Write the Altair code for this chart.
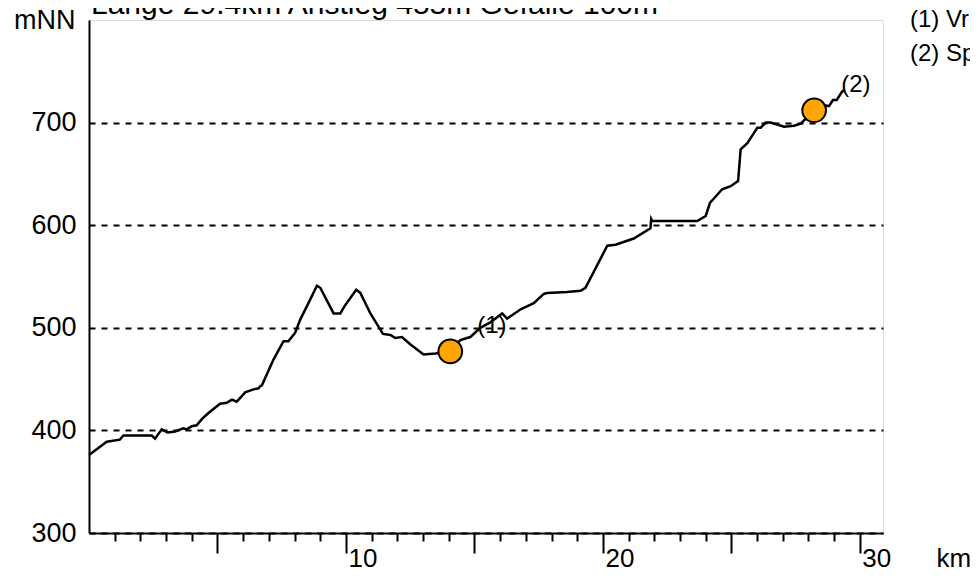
import altair as alt
import pandas as pd

# profile: distance (km) and elevation (mNN)
km = [0.0, 0.69, 1.2, 1.34, 2.44, 2.57, 2.83, 3.05, 3.35, 3.67, 3.8, 4.0, 4.19, 4.39, 4.65,
      5.1, 5.36, 5.56, 5.75, 6.08, 6.4, 6.6, 6.66, 6.73, 7.18, 7.57, 7.76, 8.02, 8.22, 8.54,
      8.87, 9.0, 9.52, 9.78, 9.97, 10.4, 10.56, 10.95, 11.44, 11.73, 11.92, 12.18, 12.5,
      13.02, 13.48, 14.06, 14.45, 14.84, 15.23, 15.6, 16.08, 16.27, 16.8, 17.31, 17.7, 17.83,
      18.6, 19.13, 19.32, 20.17, 20.49, 21.2, 21.85, 21.88, 21.92, 23.67, 24.0, 24.17, 24.32,
      24.64, 24.97, 25.26, 25.36, 25.62, 25.88, 26.01, 26.14, 26.33, 26.53, 27.05, 27.44,
      27.7, 28.22, 28.6, 28.8, 28.95, 29.1, 29.3, 29.4]
elev = [376, 389, 391, 395, 395, 392, 401, 398, 399, 402, 401, 404, 405, 411, 417,
        426, 427, 430, 428, 437, 440, 441, 443, 444, 469, 487, 487, 495, 508, 524,
        541, 539, 514, 514, 522, 537, 534, 514, 494, 493, 490, 491, 484,
        474, 475, 477, 488, 491, 500, 505, 514, 509, 518, 524, 533, 534,
        535, 536, 539, 580, 581, 587, 597, 606, 604, 604, 609, 622, 626,
        635, 638, 643, 674, 680, 690, 695, 695, 700, 700, 696, 697,
        699, 712, 717, 716, 722, 722, 730, 732]

# waypoints
wp_km = [14.06, 28.22]
wp_elev = [477, 712]
wp_label = ["(1)", "(2)"]

# legend lines (clipped at the right edge in the original)
legend_text = ["(1) Vro", "(2) Sp"]

title_text = "Länge 29.4km Anstieg 455m Gefälle 100m"

y_values = [300, 400, 500, 600, 700]
x_major = [5, 10, 15, 20, 25, 30]
x_minor = [v for v in range(1, 31) if v % 5 != 0]

FONT = "Liberation Sans"

prof = pd.DataFrame({"km": km, "elev": elev})
wp = pd.DataFrame({"km": wp_km, "elev": wp_elev, "label": wp_label})
leg = pd.DataFrame({"text": legend_text, "row": [0, 1]})

xscale = alt.Scale(domain=[0, 30.9], nice=False, zero=False)
yscale = alt.Scale(domain=[300, 800], nice=False, zero=False)

x_main = alt.X("km:Q", scale=xscale, axis=alt.Axis(
    orient="bottom",
    values=x_major, tickSize=20, tickWidth=2, tickColor="black",
    domainColor="black", domainWidth=2,
    labelExpr="datum.value % 10 == 0 ? datum.label : ''",
    labelAlign="left", labelBaseline="alphabetic", labelPadding=13,
    labelFontSize=26, labelFont=FONT, labelColor="black", labelOffset=2,
    labelFlush=False, labelOverlap=False,
    grid=False, title="km", titleFont=FONT, titleFontSize=26, titleFontWeight="normal",
    titleColor="black", titleAnchor="start", titleAlign="left", titleBaseline="alphabetic",
    titleX=847, titleY=33))

y_main = alt.Y("elev:Q", scale=yscale, axis=alt.Axis(
    orient="left",
    values=y_values, ticks=False, domainColor="black", domainWidth=2,
    labelFontSize=27, labelFont=FONT, labelColor="black", labelPadding=13,
    labelBaseline="middle", labelFlush=False, labelOverlap=False,
    grid=True, gridColor="black", gridWidth=2, gridDash=[6, 6],
    title="mNN", titleFont=FONT, titleFontSize=27, titleFontWeight="normal",
    titleColor="black", titleAngle=0, titleAlign="right", titleBaseline="alphabetic",
    titleX=-14, titleY=8))

x_none = alt.X("km:Q", scale=xscale, axis=None)

line = alt.Chart(prof).mark_line(color="black", strokeWidth=2.5).encode(x=x_main, y=y_main)

minor = alt.Chart(prof).mark_line(opacity=0).encode(
    x=alt.X("km:Q", scale=xscale, axis=alt.Axis(
        orient="bottom", values=x_minor, tickSize=8, tickWidth=2, tickColor="black",
        domain=False, labels=False, grid=False, title=None)),
    y=y_main)

points = alt.Chart(wp).mark_point(
    shape="circle", filled=True, fill="#FFA500", stroke="black", strokeWidth=2,
    size=560, opacity=1).encode(x=x_none, y=y_main)

wp_text = alt.Chart(wp).mark_text(
    align="left", baseline="alphabetic", dx=27, dy=-18, fontSize=24, font=FONT,
    color="black").encode(x=x_none, y=y_main, text="label:N")

legend1 = alt.Chart(leg).transform_filter("datum.row == 0").mark_text(
    align="left", baseline="alphabetic", fontSize=24, font=FONT, color="black").encode(
    x=alt.value(821), y=alt.value(7), text="text:N")
legend2 = alt.Chart(leg).transform_filter("datum.row == 1").mark_text(
    align="left", baseline="alphabetic", fontSize=24, font=FONT, color="black").encode(
    x=alt.value(821), y=alt.value(41), text="text:N")

title = alt.Chart(pd.DataFrame({"t": [title_text]})).mark_text(
    align="left", baseline="alphabetic", fontSize=30, font=FONT, color="black").encode(
    x=alt.value(2), y=alt.value(-6), text="t:N")

chart = alt.layer(line, minor, points, wp_text, legend1, legend2, title).resolve_axis(
    x="independent").properties(
    width=794, height=513,
    padding={"left": 81, "top": 12, "right": 87, "bottom": 40},
    autosize=alt.AutoSizeParams(type="none"),
).configure_view(stroke="transparent", strokeWidth=0).configure(background="white")

chart.save("out.html", embed_options={"renderer": "svg", "actions": False})
